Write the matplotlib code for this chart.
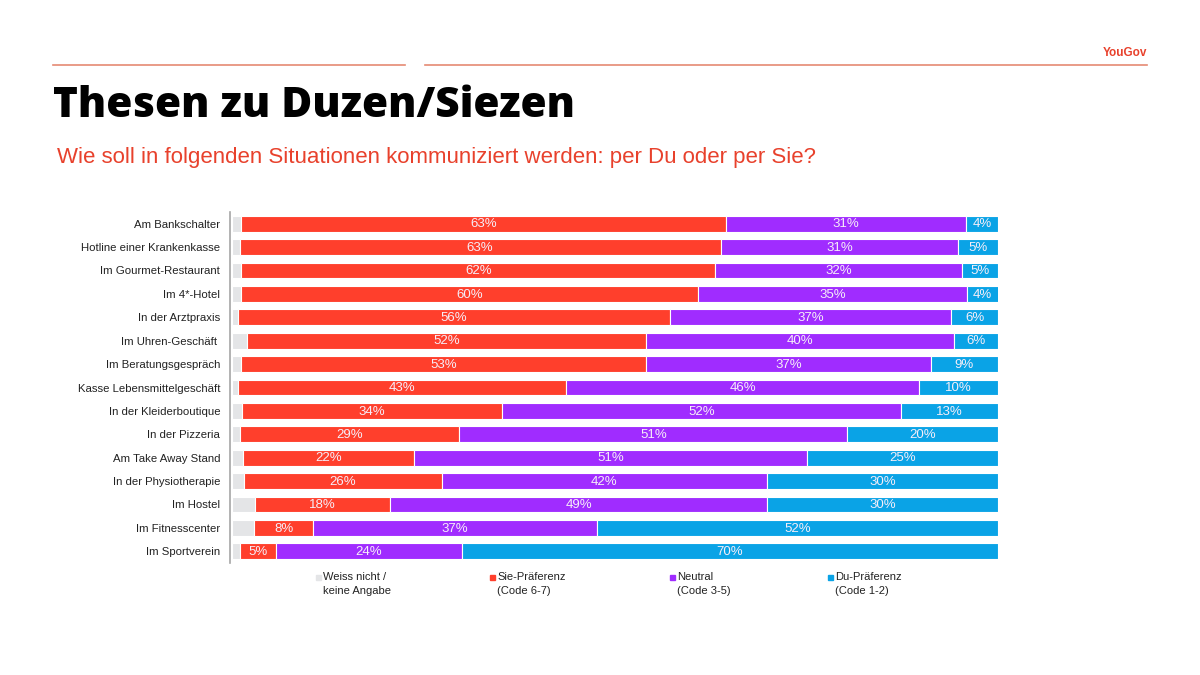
import matplotlib
matplotlib.use("Agg")
import matplotlib.pyplot as plt
from matplotlib.patches import Rectangle
from matplotlib.lines import Line2D

plt.rcParams['font.family'] = ['Liberation Sans', 'DejaVu Sans']

categories = ["Am Bankschalter", "Hotline einer Krankenkasse", "Im Gourmet-Restaurant",
              "Im 4*-Hotel", "In der Arztpraxis", "Im Uhren-Geschäft ", "Im Beratungsgespräch",
              "Kasse Lebensmittelgeschäft", "In der Kleiderboutique", "In der Pizzeria",
              "Am Take Away Stand", "In der Physiotherapie", "Im Hostel", "Im Fitnesscenter",
              "Im Sportverein"]
weiss_nicht = [1.2, 1.0, 1.2, 1.2, 0.8, 2.0, 1.2, 0.8, 1.3, 1.0, 1.4, 1.6, 3.0, 2.9, 1.0]
sie_pref = [63.3, 62.8, 61.9, 59.7, 56.4, 52.0, 52.9, 42.8, 34.0, 28.7, 22.3, 25.8, 17.6, 7.7, 4.8]
neutral = [31.3, 31.0, 32.2, 35.0, 36.7, 40.2, 37.1, 46.1, 52.0, 50.6, 51.4, 42.4, 49.3, 37.0, 24.2]
du_pref = [4.2, 5.2, 4.7, 4.2, 6.1, 5.8, 8.8, 10.3, 12.7, 19.7, 24.9, 30.2, 30.1, 52.4, 70.0]

series_names = ["Weiss nicht /\nkeine Angabe", "Sie-Präferenz\n(Code 6-7)",
                "Neutral\n(Code 3-5)", "Du-Präferenz\n(Code 1-2)"]
colors = ["#E4E5E7", "#FF3F2C", "#A02CFF", "#0AA3E6"]
series = [weiss_nicht, sie_pref, neutral, du_pref]

fig = plt.figure(figsize=(12, 6.75), dpi=100)
ax = fig.add_axes([230/1200, 1-563/675, (998-230)/1200, 351/675])

y = list(range(len(categories)))
left = [0.0]*len(categories)
for k, (vals, col) in enumerate(zip(series, colors)):
    ax.barh(y, vals, left=left, height=0.68, color=col, edgecolor="white", linewidth=0.8)
    if k > 0:
        for i, v in enumerate(vals):
            ax.text(left[i] + v/2, i + 0.03, f"{v:.0f}%", ha="center", va="center",
                    color="#F6EEF8", fontsize=9.5)
    left = [l + v for l, v in zip(left, vals)]

ax.set_xlim(-0.26, 100)
ax.set_ylim(len(categories)-0.5, -0.5)
ax.set_yticks(y)
ax.set_yticklabels(categories, fontsize=8.2, color="#222222")
ax.tick_params(axis="y", length=0, pad=7)
ax.set_xticks([])
for s in ["top", "right", "bottom"]:
    ax.spines[s].set_visible(False)
ax.spines["left"].set_color("#A6A6A6")
ax.spines["left"].set_linewidth(1.2)

# header lines
fig.add_artist(Line2D([53/1200, 405/1200], [1-65/675]*2, color="#E58A73", lw=1.2))
fig.add_artist(Line2D([425/1200, 1147/1200], [1-65/675]*2, color="#E58A73", lw=1.2))
fig.text(1147/1200, 1-53/675, "YouGov", ha="right", va="center", color="#E8412C",
         fontsize=8.5, fontweight="bold")

fig.text(53/1200, 1-106/675, "Thesen zu Duzen/Siezen", ha="left", va="center",
         fontsize=30.5, fontweight=800, color="black",
         family=["Open Sans", "Liberation Sans", "DejaVu Sans"])
fig.text(57/1200, 1-158/675, "Wie soll in folgenden Situationen kommuniziert werden: per Du oder per Sie?",
         ha="left", va="center", fontsize=16, color="#E8412C")

# legend
leg_x = [316, 490, 670, 828]
for xp, name, col in zip(leg_x, series_names, colors):
    fig.add_artist(Rectangle((xp/1200, 1-580/675), 5/1200, 5/675, color=col,
                             transform=fig.transFigure))
    fig.text((xp+7)/1200, 1-584/675, name, ha="left", va="center", fontsize=8,
             color="#222222", linespacing=1.45)

fig.savefig("out.png", dpi=100)
